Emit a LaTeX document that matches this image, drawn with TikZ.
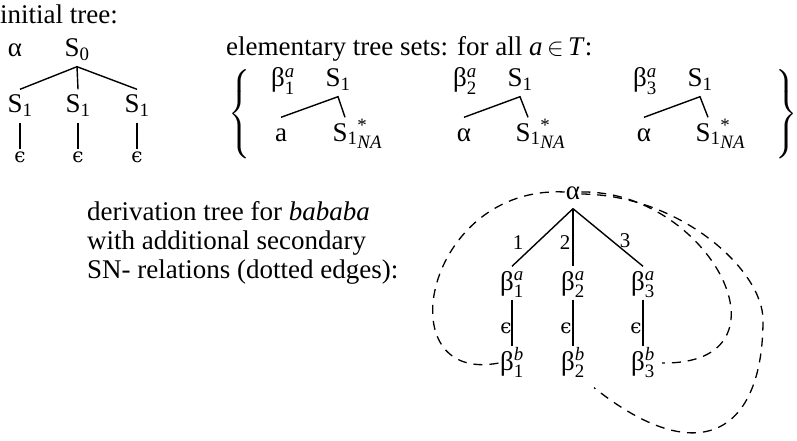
\documentclass[tikz,border=0pt]{standalone}
\usepackage{amsmath}
\usepackage{fontspec}
\setmainfont{Liberation Serif}
\newfontfamily\epsfont{DejaVu Serif}
\newcommand\Ssub[1]{S\ensuremath{_{\text{#1}}}}
\newcommand\Bet[2]{β\ensuremath{^{\textit{#1}}_{\text{#2}}}}
\newcommand\Sna{S\ensuremath{_{\text{1}}}\rlap{\ensuremath{^{\text{*}}_{\textit{NA}}}}}
\newcommand\Eps{{\epsfont ϵ}}
\tikzset{
 tn/.style={anchor=base, font=\fontsize{27}{27}\selectfont, text height=18pt, text depth=4pt, inner xsep=1pt, inner ysep=5.5pt},
 txt/.style={anchor=base west, font=\fontsize{27}{27}\selectfont, inner sep=0pt},
 eps/.style={anchor=base, font=\fontsize{20}{20}\selectfont, inner sep=2pt},
 num/.style={anchor=base, font=\fontsize{21}{21}\selectfont, inner sep=0pt},
 brc/.style={font=\fontsize{26}{26}\selectfont, inner sep=0pt},
 edge/.style={line width=1.4pt},
 sn/.style={line width=1.3pt, dash pattern=on 9pt off 7pt},
}
\begin{document}
\begin{tikzpicture}[x=1pt,y=-1pt]
\useasboundingbox (0,0) rectangle (797,441);
% initial tree
\node[txt] (t1) at (0,24) {initial tree:};
\node[tn] (a0) at (15,57) {α};
\node[tn] (s0) at (77,57) {\Ssub{0}};
\node[tn] (s1a) at (20,113) {\Ssub{1}};
\node[tn] (s1b) at (78,113) {\Ssub{1}};
\node[tn] (s1c) at (137,113) {\Ssub{1}};
\node[eps] (e1) at (20,162) {\Eps};
\node[eps] (e2) at (78,162) {\Eps};
\node[eps] (e3) at (137,162) {\Eps};
\draw[edge] (s1a.north) -- (s0.south) -- (s1c.north);
\draw[edge] (s0.south) -- (s1b.north);
\draw[edge] (s1a.south) -- (e1.north);
\draw[edge] (s1b.south) -- (e2.north);
\draw[edge] (s1c.south) -- (e3.north);
% elementary tree sets
\node[txt] (t2) at (226,56) {elementary tree sets: for all \textit{a}\,$\in$\,\textit{T}:};
\node[brc] (lb) at (240,114) {$\left\{\rule[-38pt]{0pt}{76pt}\right.$};
\node[brc] (rb) at (786,114) {$\left.\rule[-38pt]{0pt}{76pt}\right\}$};
\node[tn] (b1) at (283,87) {\Bet{a}{1}};
\node[tn] (r1) at (338,87) {\Ssub{1}};
\node[tn] (l1) at (281,141) {a};
\node[tn] (n1) at (345,141) {\Sna};
\draw[edge] (l1.north) -- (r1.south) -- (n1.north);
\node[tn] (b2) at (465,87) {\Bet{a}{2}};
\node[tn] (r2) at (520,87) {\Ssub{1}};
\node[tn] (l2) at (464,141) {α};
\node[tn] (n2) at (528,141) {\Sna};
\draw[edge] (l2.north) -- (r2.south) -- (n2.north);
\node[tn] (b3) at (645,87) {\Bet{a}{3}};
\node[tn] (r3) at (700,87) {\Ssub{1}};
\node[tn] (l3) at (644,141) {α};
\node[tn] (n3) at (708,141) {\Sna};
\draw[edge] (l3.north) -- (r3.south) -- (n3.north);
% derivation tree
\node[txt] (d1) at (87,220) {derivation tree for \textit{bababa}};
\node[txt] (d2) at (87,249) {with additional secondary};
\node[txt] (d3) at (87,278) {SN- relations (dotted edges):};
\node[tn] (al) at (573,199) {α};
\node[tn] (b1a) at (512,290) {\Bet{a}{1}};
\node[tn] (b2a) at (573,290) {\Bet{a}{2}};
\node[tn] (b3a) at (643,290) {\Bet{a}{3}};
\node[tn] (b1b) at (512,370) {\Bet{b}{1}};
\node[tn] (b2b) at (573,370) {\Bet{b}{2}};
\node[tn] (b3b) at (643,370) {\Bet{b}{3}};
\draw[edge] (al.south) -- (b1a.north);
\draw[edge] (al.south) -- (b2a.north);
\draw[edge] (al.south) -- (b3a.north);
\draw[edge] (b1a.south) -- (b1b.north);
\draw[edge] (b2a.south) -- (b2b.north);
\draw[edge] (b3a.south) -- (b3b.north);
\node[num] (k1) at (518,249) {1};
\node[num] (k2) at (565,249) {2};
\node[num] (k3) at (625,247) {3};
\node[eps] (ea) at (506,333) {\Eps};
\node[eps] (eb) at (566,333) {\Eps};
\node[eps] (ec) at (636,333) {\Eps};
\coordinate (loop) at (763,320);
\draw[sn] (al.west) .. controls (425,185) and (385,385) .. (b1b.west);
\draw[sn] (al.east) .. controls (710,190) and (800,365) .. ([xshift=6pt]b3b.east);
\draw[sn] ([yshift=-2pt]al.east) .. controls (680,195) and (763,270) .. (loop) .. controls (763,432) and (700,472) .. ([shift={(8pt,-8pt)}]b2b.south east);
\end{tikzpicture}
\end{document}
